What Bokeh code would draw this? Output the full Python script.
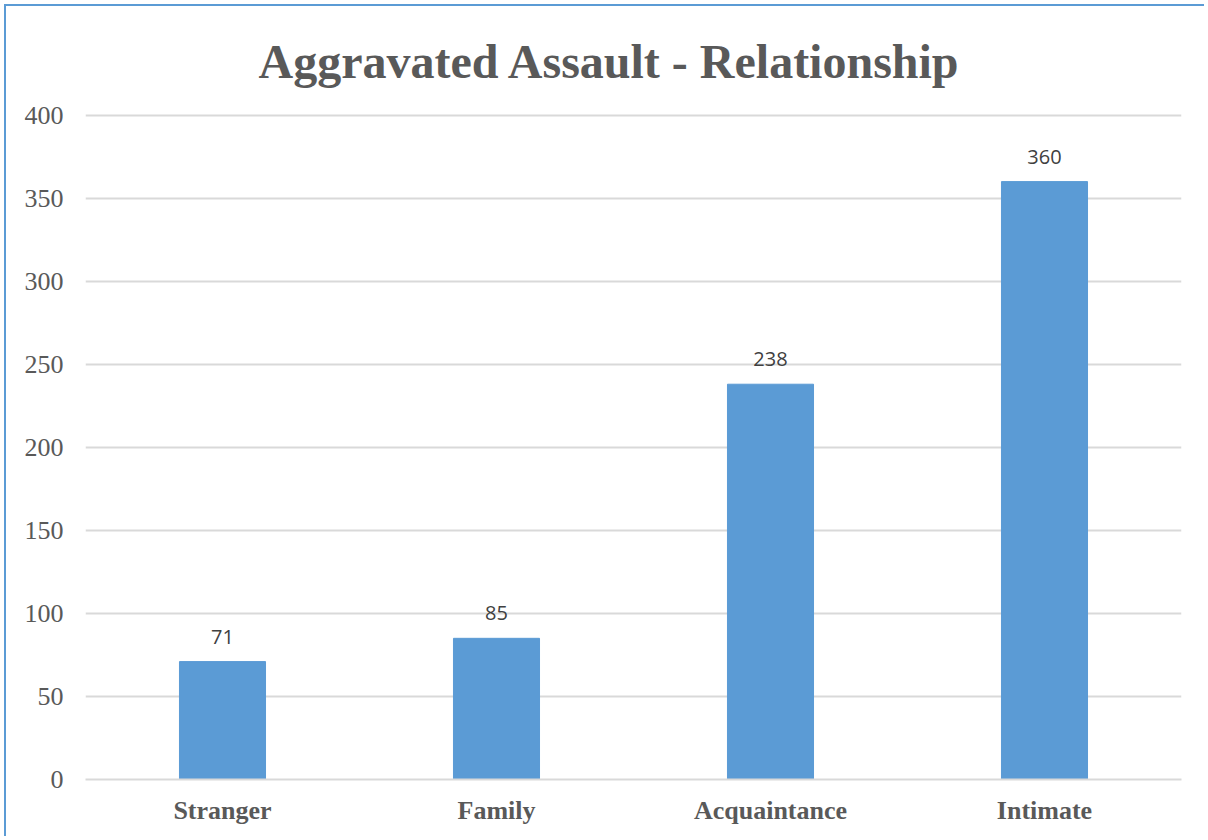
from bokeh.plotting import figure
from bokeh.models import ColumnDataSource, Range1d, LabelSet, FixedTicker
from bokeh.embed import file_html
from bokeh.resources import INLINE
from bokeh.core.properties import value

title_text = "Aggravated Assault - Relationship"
categories = ["Stranger", "Family", "Acquaintance", "Intimate"]
counts = [71, 85, 238, 360]
y_ticks = [0, 50, 100, 150, 200, 250, 300, 350, 400]

src = ColumnDataSource(dict(cat=categories, val=counts, lab=[str(v) for v in counts]))

p = figure(x_range=categories, y_range=Range1d(0, 401), width=1200, height=832,
           output_backend="svg", toolbar_location=None,
           min_border_left=79, min_border_right=25, min_border_top=105, min_border_bottom=59)
p.title.text = title_text
p.title.align = "left"
p.title.text_font = "Liberation Serif"
p.title.text_font_size = "48px"
p.title.text_font_style = "bold"
p.title.text_color = "#595959"
p.title.offset = 173
p.title.standoff = 52

p.vbar(x="cat", top="val", width=0.314, source=src, color="#5b9bd5")

labels = LabelSet(x="cat", y="val", text="lab", source=src, text_align="center",
                  text_baseline="bottom", y_offset=18, text_font=value("Open Sans"),
                  text_font_size="20px", text_color="#404040")
p.add_layout(labels)

p.outline_line_color = None
p.styles = {"border-left": "2px solid #5b9bd5", "border-top": "2px solid #5b9bd5",
            "margin-left": "4px", "margin-top": "4px"}

p.ygrid.grid_line_color = "#d9d9d9"
p.ygrid.grid_line_width = 2
p.xgrid.grid_line_color = None

p.yaxis.ticker = FixedTicker(ticks=y_ticks)
p.yaxis.axis_line_color = None
p.yaxis.major_tick_line_color = None
p.yaxis.minor_tick_line_color = None
p.yaxis.major_tick_out = 0
p.yaxis.major_label_standoff = 22
p.yaxis.major_label_text_font = "Liberation Serif"
p.yaxis.major_label_text_font_size = "26px"
p.yaxis.major_label_text_color = "#595959"

p.xaxis.axis_line_color = "#d9d9d9"
p.xaxis.axis_line_width = 2
p.xaxis.major_tick_line_color = None
p.xaxis.major_tick_out = 0
p.xaxis.major_label_standoff = 16
p.xaxis.major_label_text_font = "Liberation Serif"
p.xaxis.major_label_text_font_style = "bold"
p.xaxis.major_label_text_font_size = "26px"
p.xaxis.major_label_text_color = "#595959"

p.x_range.range_padding = 0

open("out.html", "w").write(file_html(p, INLINE))
